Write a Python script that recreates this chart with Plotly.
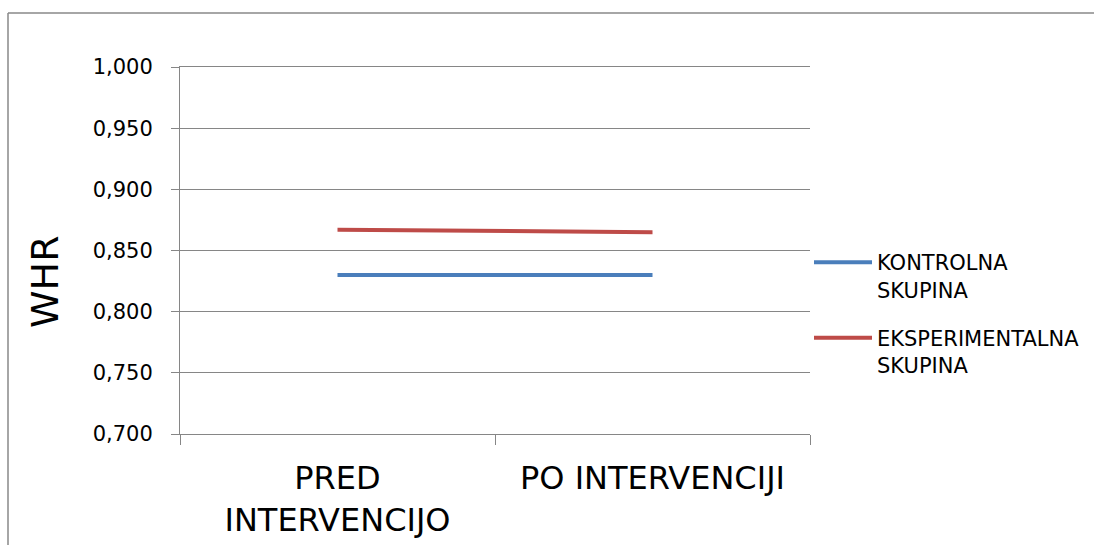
import plotly.graph_objects as go

# Categories and WHR means per group
categories = ["PRED<br>INTERVENCIJO", "PO INTERVENCIJI"]
kontrolna = [0.830, 0.830]
eksperimentalna = [0.867, 0.865]
series_names = ["KONTROLNA<br>SKUPINA", "EKSPERIMENTALNA<br>SKUPINA"]
y_ticks = [0.70, 0.75, 0.80, 0.85, 0.90, 0.95, 1.00]

W, H = 1094, 545
L, R, T, B = 180, 810, 67, 434  # plot area in pixels

FONT = "DejaVu Sans"
GRID = "#868686"

fig = go.Figure()
fig.add_trace(go.Scatter(
    x=categories, y=kontrolna, name=series_names[0], mode="lines",
    line=dict(color="#4A7EBB", width=4), legendgroup="k",
))
fig.add_trace(go.Scatter(
    x=categories, y=eksperimentalna, name=series_names[1], mode="lines",
    line=dict(color="#BE4B48", width=4), legendgroup="e",
))

def px_x(p):
    return (p - L) / (R - L)

def px_y(p):
    return (B - p) / (B - T)

fig.update_layout(
    width=W, height=H,
    margin=dict(l=L, r=W - R, t=T, b=H - B, pad=0, autoexpand=False),
    paper_bgcolor="white", plot_bgcolor="white",
    separators=", ",
    font=dict(family=FONT, color="black"),
    xaxis=dict(
        type="category", tickson="boundaries", ticks="outside", ticklen=10,
        tickcolor=GRID, tickwidth=1, showgrid=False,
        showline=True, mirror=True, linecolor=GRID, linewidth=1,
        zeroline=False, tickfont=dict(size=32, family=FONT),
        ticklabelstandoff=16, range=[-0.5, 1.5], automargin=False,
    ),
    yaxis=dict(
        range=[0.70, 1.00], tickvals=y_ticks, tickformat=".3f",
        ticks="outside", ticklen=8, tickcolor=GRID, tickwidth=1,
        showgrid=True, gridcolor=GRID, gridwidth=1,
        showline=True, linecolor=GRID, linewidth=1, zeroline=False,
        tickfont=dict(size=21, family=FONT), ticklabelstandoff=14,
        automargin=False,
    ),
    legend=dict(
        x=px_x(809), y=px_y(242), xanchor="left", yanchor="top",
        font=dict(size=21, family=FONT), valign="top", itemwidth=58,
        traceorder="grouped", tracegroupgap=18, bgcolor="rgba(0,0,0,0)",
    ),
    annotations=[dict(
        text="WHR", x=px_x(45), y=px_y(282), xref="paper", yref="paper",
        showarrow=False, textangle=-90, font=dict(size=38, family=FONT),
        xanchor="center", yanchor="middle",
    )],
    shapes=[
        # outer chart frame
        dict(type="line", xref="paper", yref="paper",
             x0=px_x(8), x1=px_x(W + 5), y0=px_y(13), y1=px_y(13),
             line=dict(color="#888888", width=1.5)),
        dict(type="line", xref="paper", yref="paper",
             x0=px_x(8), x1=px_x(8), y0=px_y(13), y1=px_y(H + 5),
             line=dict(color="#888888", width=1.5)),
    ],
)

fig.write_html("out.html")
